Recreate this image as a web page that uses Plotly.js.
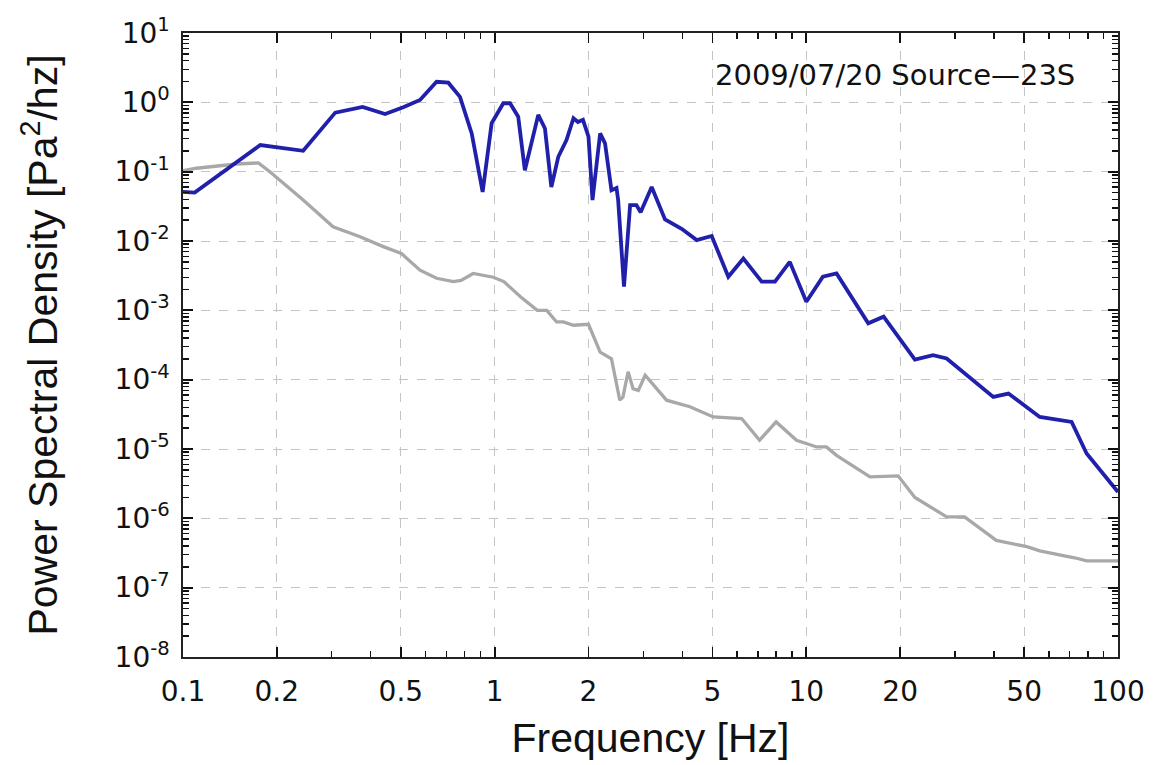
<!DOCTYPE html>
<html>
<head>
<meta charset="utf-8">
<script src="https://cdn.plot.ly/plotly-3.0.1.min.js"></script>
<style>html,body{margin:0;padding:0;background:#fff;}#chart{width:1156px;height:765px;}</style>
</head>
<body>
<div id="chart"></div>
<script>
// Source (blue) spectrum
const sourceFreq = [0.1, 0.109, 0.177, 0.243, 0.308, 0.377, 0.445, 0.509, 0.576, 0.651, 0.710, 0.774, 0.844, 0.915, 0.978, 1.066, 1.12, 1.19, 1.25, 1.38, 1.45, 1.52, 1.60, 1.70, 1.79, 1.85, 1.92, 2.0, 2.06, 2.18, 2.26, 2.37, 2.46, 2.49, 2.60, 2.72, 2.85, 2.94, 3.19, 3.52, 3.98, 4.45, 4.97, 5.62, 6.28, 7.19, 7.93, 8.85, 10.0, 11.3, 12.5, 15.8, 17.7, 22.3, 25.5, 28.2, 39.8, 44.5, 56.1, 71.0, 79.3, 89.7, 100];
const sourcePSD = [0.051, 0.05, 0.242, 0.20, 0.71, 0.86, 0.68, 0.85, 1.08, 1.98, 1.92, 1.2, 0.357, 0.051, 0.50, 0.97, 0.97, 0.62, 0.105, 0.66, 0.42, 0.06, 0.164, 0.286, 0.59, 0.52, 0.56, 0.32, 0.039, 0.357, 0.256, 0.054, 0.058, 0.039, 0.0022, 0.033, 0.033, 0.026, 0.06, 0.0204, 0.015, 0.0103, 0.0118, 0.00305, 0.0056, 0.0026, 0.0026, 0.0050, 0.00133, 0.00305, 0.0034, 0.00065, 0.00081, 0.000195, 0.000225, 0.000202, 5.65e-5, 6.3e-5, 2.9e-5, 2.46e-5, 8.6e-6, 4.4e-6, 2.4e-6];

// Background (gray) spectrum
const noiseFreq = [0.1, 0.1105, 0.1486, 0.1745, 0.19, 0.243, 0.303, 0.370, 0.439, 0.502, 0.576, 0.651, 0.737, 0.78, 0.853, 0.99, 1.07, 1.21, 1.37, 1.47, 1.58, 1.66, 1.79, 2.0, 2.18, 2.37, 2.52, 2.58, 2.68, 2.78, 2.89, 3.04, 3.56, 4.23, 5.03, 6.2, 7.08, 8.0, 9.3, 10.8, 11.6, 12.5, 16.0, 19.7, 22.3, 28.2, 32.2, 40.7, 51.0, 56.1, 65.5, 72.6, 79.3, 100];
const noisePSD = [0.103, 0.112, 0.129, 0.134, 0.1, 0.039, 0.016, 0.0115, 0.0083, 0.0066, 0.0038, 0.0029, 0.0026, 0.0027, 0.0034, 0.003, 0.0026, 0.00157, 0.001, 0.001, 0.00068, 0.00068, 0.00061, 0.00063, 0.00025, 0.0002, 5.06e-5, 5.6e-5, 0.00013, 7.4e-5, 7e-5, 0.000116, 5.06e-5, 4.07e-5, 2.9e-5, 2.75e-5, 1.34e-5, 2.46e-5, 1.34e-5, 1.07e-5, 1.07e-5, 8.1e-6, 3.97e-6, 4.1e-6, 2.0e-6, 1.05e-6, 1.05e-6, 4.8e-7, 3.9e-7, 3.4e-7, 2.94e-7, 2.7e-7, 2.43e-7, 2.43e-7];

// Tick labels
const xTickVals = [0.1, 0.2, 0.5, 1, 2, 5, 10, 20, 50, 100];
const xTickText = ['0.1', '0.2', '0.5', '1', '2', '5', '10', '20', '50', '100'];
const xMinorVals = [0.3, 0.4, 0.6, 0.7, 0.8, 0.9, 3, 4, 6, 7, 8, 9, 30, 40, 60, 70, 80, 90];
const yExponents = [1, 0, -1, -2, -3, -4, -5, -6, -7, -8];
const annotationText = '2009/07/20 Source\u201423S';

const yTickVals = yExponents.map(e => Math.pow(10, e));
const yTickText = yExponents.map(e => '10<sup>' + (e < 0 ? '-' + (-e) : e) + '</sup>');
const yMinorVals = [];
yExponents.forEach(e => { if (e < 1) { for (let m = 2; m <= 9; m++) yMinorVals.push(m * Math.pow(10, e)); } });

const traces = [
  {x: noiseFreq, y: noisePSD, type: 'scatter', mode: 'lines', line: {color: '#a8a8a8', width: 3.3}, showlegend: false},
  {x: sourceFreq, y: sourcePSD, type: 'scatter', mode: 'lines', line: {color: '#2020aa', width: 3.8}, showlegend: false}
];

const axisCommon = {
  showline: true, linecolor: '#222', linewidth: 1.6, mirror: 'allticks',
  ticks: 'inside', ticklen: 10, tickwidth: 1.8, tickcolor: '#111',
  showgrid: true, gridcolor: '#c4c4c4', gridwidth: 1, griddash: 'dash',
  zeroline: false,
  tickfont: {family: 'DejaVu Sans', size: 28, color: '#111'}
};

const layout = {
  width: 1156, height: 765,
  margin: {l: 183, r: 38, t: 33, b: 108},
  paper_bgcolor: '#fff', plot_bgcolor: '#fff',
  xaxis: Object.assign({}, axisCommon, {
    type: 'log', range: [-1, 2], tickmode: 'array', tickvals: xTickVals, ticktext: xTickText,
    ticklabelstandoff: 9,
    minor: {tickmode: 'array', tickvals: xMinorVals, ticks: 'inside', ticklen: 6, tickwidth: 1.5, tickcolor: '#111', showgrid: false},
    title: {text: 'Frequency [Hz]', font: {family: 'Liberation Sans', size: 41, color: '#111'}, standoff: 16}
  }),
  yaxis: Object.assign({}, axisCommon, {
    type: 'log', range: [-8, 1], tickmode: 'array', tickvals: yTickVals, ticktext: yTickText,
    ticklabelstandoff: 6,
    minor: {tickmode: 'array', tickvals: yMinorVals, ticks: 'inside', ticklen: 6, tickwidth: 1.5, tickcolor: '#111', showgrid: false},
    title: {text: 'Power Spectral Density [Pa<sup>2</sup>/hz]', font: {family: 'Liberation Sans', size: 41, color: '#111'}, standoff: 44}
  }),
  annotations: [{
    text: annotationText, xref: 'paper', yref: 'paper', x: 0.956, y: 0.933,
    xanchor: 'right', yanchor: 'middle', showarrow: false,
    font: {family: 'DejaVu Sans', size: 29, color: '#111'}
  }]
};

Plotly.newPlot('chart', traces, layout, {displayModeBar: false, staticPlot: true});
</script>
</body>
</html>
